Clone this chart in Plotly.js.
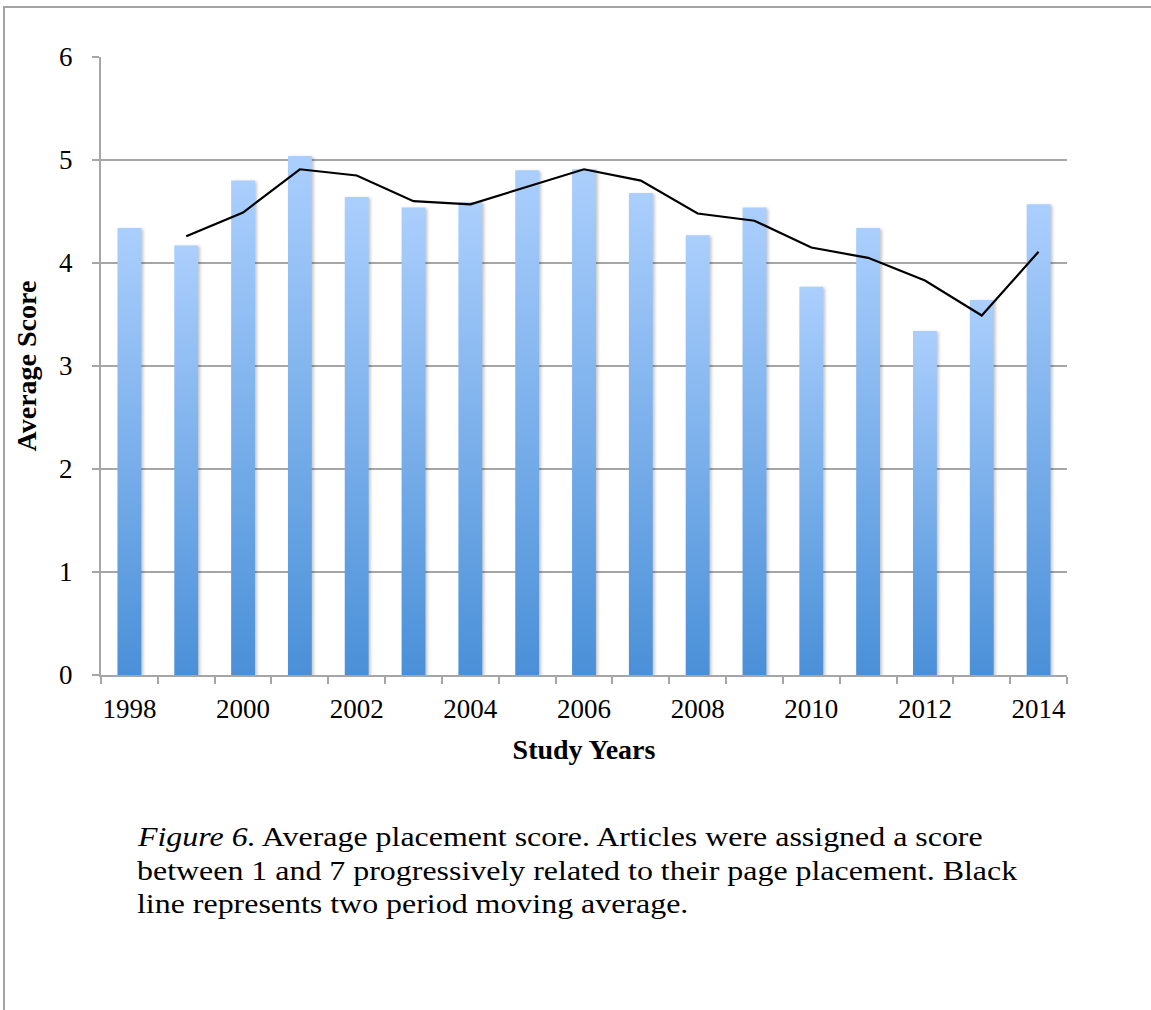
<!DOCTYPE html>
<html>
<head>
<meta charset="utf-8">
<script src="https://cdn.plot.ly/plotly-3.0.1.min.js"></script>
<style>
  html, body { margin: 0; padding: 0; background: #ffffff; }
  #wrap { position: relative; width: 1151px; height: 1010px; overflow: hidden; }
  #chart { position: absolute; left: 0; top: 0; width: 1151px; height: 1010px; }
  #frame { position: absolute; left: 3px; top: 6px; width: 1160px; height: 1020px;
           border-top: 2px solid #a3a3a3; border-left: 2px solid #a3a3a3; pointer-events: none; }
</style>
</head>
<body>
<div id="wrap">
  <div id="chart"></div>
  <div id="frame"></div>
</div>
<script>
// ---- data ----
const years = ['1998','1999','2000','2001','2002','2003','2004','2005','2006',
               '2007','2008','2009','2010','2011','2012','2013','2014'];
const avgScore = [4.34, 4.17, 4.80, 5.04, 4.64, 4.54, 4.59, 4.90, 4.91,
                  4.68, 4.27, 4.54, 3.77, 4.34, 3.34, 3.64, 4.57];
const maYears = ['1999','2000','2001','2002','2003','2004','2005','2006',
                 '2007','2008','2009','2010','2011','2012','2013','2014'];
const movingAvg = [4.26, 4.49, 4.91, 4.85, 4.60, 4.57, 4.74, 4.91,
                   4.80, 4.48, 4.41, 4.15, 4.05, 3.83, 3.49, 4.11];
const xTickText = ['1998','','2000','','2002','','2004','','2006',
                   '','2008','','2010','','2012','','2014'];
const yTickVals = [0, 1, 2, 3, 4, 5, 6];
const captionLines = [
  '<i>Figure 6.</i> Average placement score. Articles were assigned a score',
  'between 1 and 7 progressively related to their page placement. Black',
  'line represents two period moving average.'
];

// ---- layout helpers ----
const W = 1151, H = 1010;
const plotL = 101, plotR = 1067, plotT = 57, plotB = 675;
const px2paperX = px => (px - plotL) / (plotR - plotL);
const px2paperY = py => (plotB - py) / (plotB - plotT);

const gridGray = '#a6a6a6';
const serif = 'Liberation Serif, Times New Roman, serif';
const captionStretch = 1.14;   // the reference caption type is set slightly wide

const traces = [
  {
    type: 'bar',
    x: years,
    y: avgScore,
    width: 0.42,
    marker: { color: '#7baeea', line: { width: 0 } },
    hoverinfo: 'x+y',
    name: 'Average Score'
  },
  {
    type: 'scatter',
    mode: 'lines',
    x: maYears,
    y: movingAvg,
    line: { color: '#000000', width: 2.2 },
    hoverinfo: 'x+y',
    name: '2 per. Mov. Avg.'
  }
];

const annotations = captionLines.map((t, i) => ({
  text: t,
  xref: 'paper', yref: 'paper',
  x: px2paperX(135), y: px2paperY([837, 870, 903][i]),
  xanchor: 'left', yanchor: 'middle',
  showarrow: false, align: 'left',
  font: { family: serif, size: 28, color: '#000000' }
}));

const layout = {
  width: W, height: H,
  margin: { l: plotL, r: W - plotR, t: plotT, b: H - plotB, pad: 0 },
  paper_bgcolor: '#ffffff',
  plot_bgcolor: '#ffffff',
  showlegend: false,
  xaxis: {
    type: 'category',
    categoryorder: 'array',
    categoryarray: years,
    range: [-0.5, years.length - 0.5],
    tickmode: 'array',
    tickvals: years,
    ticktext: xTickText,
    tickangle: 0,
    tickson: 'boundaries',
    ticks: 'outside',
    ticklen: 7,
    tickwidth: 2,
    tickcolor: gridGray,
    showline: true,
    linecolor: gridGray,
    linewidth: 2,
    showgrid: false,
    zeroline: false,
    ticklabelstandoff: 9,
    tickfont: { family: serif, size: 27, color: '#000000' },
    title: {
      text: '<b>Study Years</b>',
      font: { family: serif, size: 28, color: '#000000' },
      standoff: 16
    },
    automargin: false
  },
  yaxis: {
    range: [0, 6],
    tickmode: 'array',
    tickvals: yTickVals,
    ticks: 'outside',
    ticklen: 7,
    tickwidth: 2,
    tickcolor: gridGray,
    showline: true,
    linecolor: gridGray,
    linewidth: 2,
    showgrid: true,
    gridcolor: gridGray,
    gridwidth: 2,
    zeroline: false,
    ticklabelstandoff: 14,
    tickfont: { family: serif, size: 27, color: '#000000' },
    title: {
      text: '<b>Average Score</b>',
      font: { family: serif, size: 28, color: '#000000' },
      standoff: 14
    },
    automargin: false
  },
  annotations: annotations
};

Plotly.newPlot('chart', traces, layout, { staticPlot: true, displayModeBar: false }).then(gd => {
  const ns = 'http://www.w3.org/2000/svg';
  // per-bar vertical gradient, like the reference's gradient fill
  const svg = gd.querySelector('.main-svg');
  let defs = svg.querySelector('defs');
  if (!defs) { defs = document.createElementNS(ns, 'defs'); svg.insertBefore(defs, svg.firstChild); }
  const grad = document.createElementNS(ns, 'linearGradient');
  grad.setAttribute('id', 'barGrad');
  grad.setAttribute('x1', '0'); grad.setAttribute('y1', '0');
  grad.setAttribute('x2', '0'); grad.setAttribute('y2', '1');
  [['0%', '#abcffd'], ['100%', '#4a90d8']].forEach(([o, c]) => {
    const s = document.createElementNS(ns, 'stop');
    s.setAttribute('offset', o); s.setAttribute('stop-color', c);
    grad.appendChild(s);
  });
  defs.appendChild(grad);
  gd.querySelectorAll('.barlayer .point path').forEach(p => {
    p.style.fill = 'url(#barGrad)';
    p.style.filter = 'drop-shadow(2px 1px 1.5px rgba(0,0,0,0.22))';
  });
  // widen the caption type slightly to match the reference set width
  gd.querySelectorAll('.annotation-text').forEach(t => {
    const w = t.getComputedTextLength();
    t.setAttribute('textLength', (w * captionStretch).toFixed(1));
    t.setAttribute('lengthAdjust', 'spacingAndGlyphs');
  });
});
</script>
</body>
</html>
